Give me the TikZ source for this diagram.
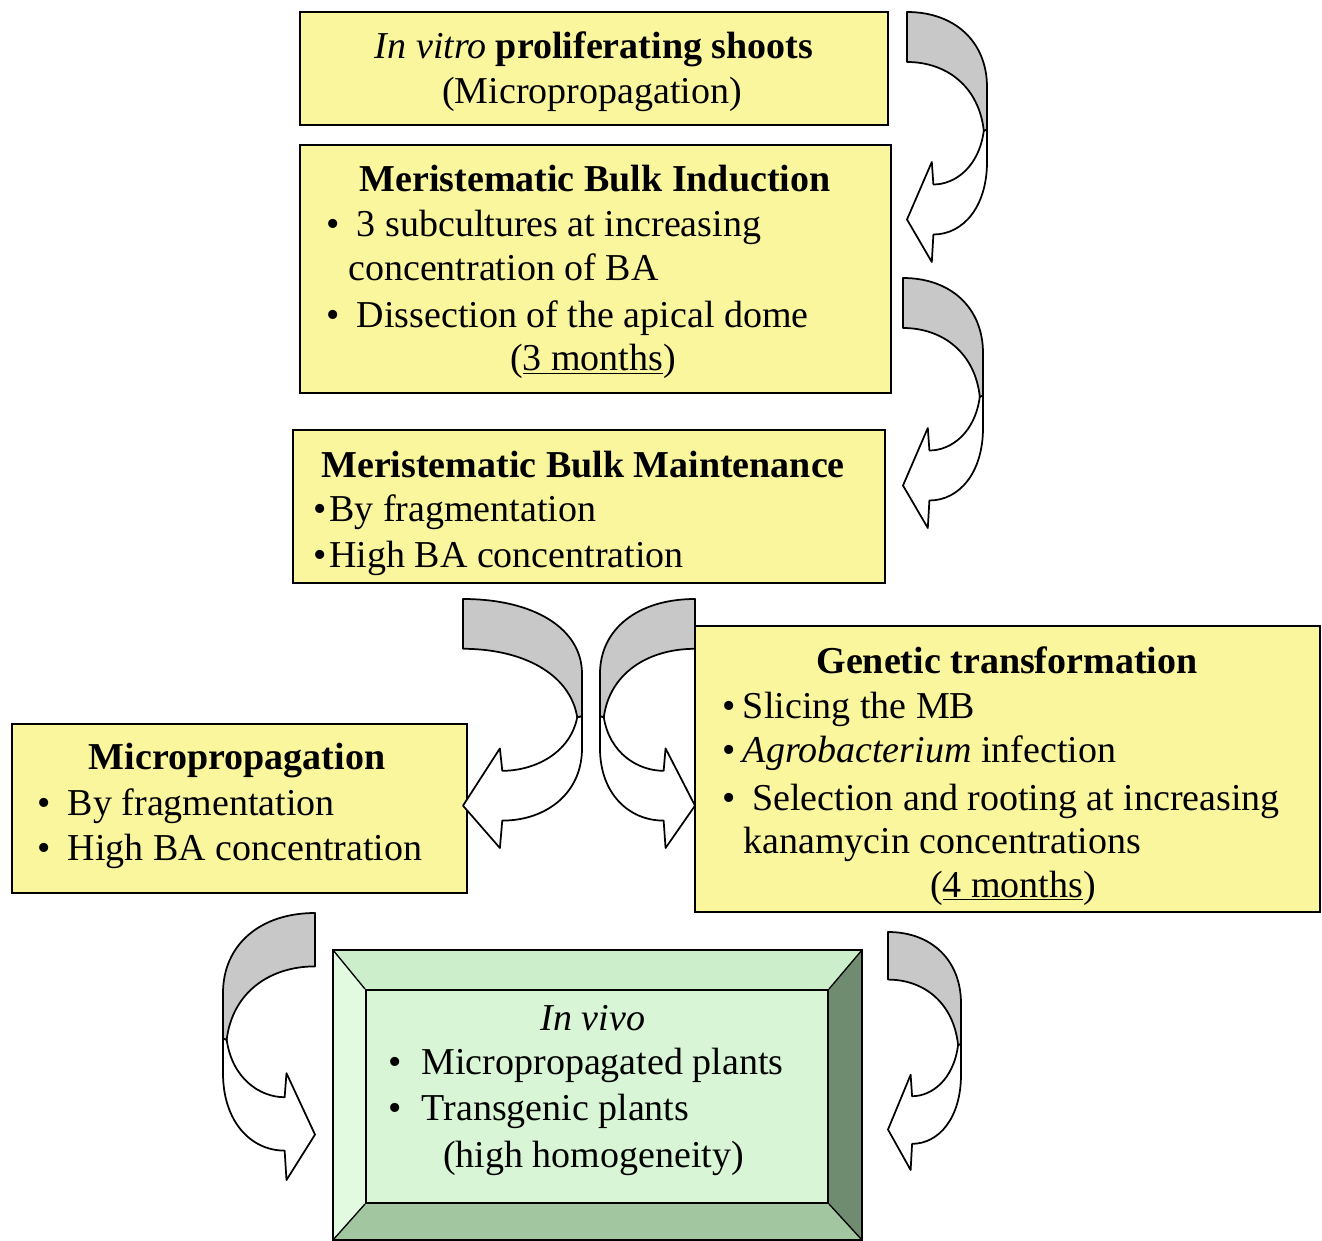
\documentclass[tikz,border=0pt]{standalone}
\usepackage{fontspec}
\setmainfont{Liberation Serif}
\usetikzlibrary{fit}
\definecolor{yboxc}{RGB}{250,246,158}
\definecolor{agray}{RGB}{200,200,200}
\definecolor{ginner}{RGB}{216,245,213}
\definecolor{gtop}{RGB}{204,238,202}
\definecolor{gleft}{RGB}{226,250,224}
\definecolor{gright}{RGB}{112,140,112}
\definecolor{gbottom}{RGB}{162,198,160}
\newcommand\bl[1]{\makebox[#1][l]{\textbullet}}
\begin{document}
\begin{tikzpicture}[x=0.75pt,y=-0.75pt,
  ybox/.style={draw=black,line width=1.5pt,fill=yboxc,inner sep=0pt},
  tx/.style={inner sep=0pt,anchor=base,font=\fontsize{28.5}{34}\selectfont},
  txl/.style={tx,anchor=base west},
  aline/.style={draw=black,line width=1.3pt,line join=round},
  curvarrow/.pic={
    \filldraw[aline,fill=white] (0.96,0.475) .. controls (0.9,0.62) and (0.6,0.69) .. (0.33,0.69)
      -- (0.31,0.6) -- (0,0.83) -- (0.31,1) -- (0.33,0.89)
      .. controls (0.7,0.89) and (1,0.78) .. (1,0.6) -- (1,0.47) -- cycle;
    \filldraw[aline,fill=agray] (0,0) .. controls (0.6,0) and (1,0.12) .. (1,0.3) -- (1,0.47)
      -- (0.96,0.475) .. controls (0.9,0.3) and (0.5,0.2) .. (0,0.2) -- cycle;
  }]
\path[use as bounding box,fill=white] (0,0) rectangle (1322,1241);

% yellow boxes
\node[ybox,fit={(300,12) (888,125)}] (b1) {};
\node[ybox,fit={(300,145) (891,393)}] (b2) {};
\node[ybox,fit={(293,430) (885,583)}] (b3) {};
\node[ybox,fit={(695,626) (1320,912)}] (b4) {};
\node[ybox,fit={(12,724) (467,893)}] (b5) {};

% green bevel box
\fill[gtop] (333,950) -- (862,950) -- (828,990) -- (366,990) -- cycle;
\fill[gleft] (333,950) -- (366,990) -- (366,1203) -- (333,1240) -- cycle;
\fill[gright] (862,950) -- (862,1240) -- (828,1203) -- (828,990) -- cycle;
\fill[gbottom] (333,1240) -- (862,1240) -- (828,1203) -- (366,1203) -- cycle;
\node[draw=black,line width=1.5pt,fill=ginner,inner sep=0pt,fit={(366,990) (828,1203)}] (b6) {};
\draw[line width=1.5pt] (333,950) rectangle (862,1240);
\draw[line width=1pt] (333,950) -- (b6.north west) (862,950) -- (b6.north east)
  (862,1240) -- (b6.south east) (333,1240) -- (b6.south west);

% texts box 1
\node[tx] (t1a) at (594,59) {\textit{In vitro} \textbf{proliferating shoots}};
\node[tx] (t1b) at (592,104) {(Micropropagation)};
% box 2
\node[tx] (t2a) at (595,192) {\textbf{Meristematic Bulk Induction}};
\node[txl] (t2b) at (326,237) {\bl{23pt}3 subcultures at increasing};
\node[txl] (t2c) at (348,281) {concentration of BA};
\node[txl] (t2d) at (326,328) {\bl{23pt}Dissection of the apical dome};
\node[tx] (t2e) at (593,371) {(\underline{3 months})};
% box 3
\node[tx] (t3a) at (583,477) {\textbf{Meristematic Bulk Maintenance}};
\node[txl] (t3b) at (313,522) {\bl{12pt}By fragmentation};
\node[txl] (t3c) at (313,567) {\bl{12pt}High BA concentration};
% box 4
\node[tx] (t4a) at (1007,673) {\textbf{Genetic transformation}};
\node[txl] (t4b) at (722,718) {\bl{15.5pt}Slicing the MB};
\node[txl] (t4c) at (722,762) {\bl{15.5pt}\textit{Agrobacterium} infection};
\node[txl] (t4d) at (722,810) {\bl{22.5pt}Selection and rooting at increasing};
\node[txl] (t4e) at (743,853) {kanamycin concentrations};
\node[tx] (t4f) at (1013,897) {(\underline{4 months})};
% box 5
\node[tx] (t5a) at (237,769) {\textbf{Micropropagation}};
\node[txl] (t5b) at (37,815) {\bl{23pt}By fragmentation};
\node[txl] (t5c) at (37,860) {\bl{23pt}High BA concentration};
% box 6
\node[tx] (t6a) at (593,1030) {\textit{In vivo}};
\node[txl] (t6b) at (388,1074) {\bl{25pt}Micropropagated plants};
\node[txl] (t6c) at (388,1120) {\bl{25pt}Transgenic plants};
\node[txl] (t6d) at (443,1167) {(high homogeneity)};

% curved arrows
\pic[xscale=80,yscale=250] (arA) at (907,12) {curvarrow};
\pic[xscale=80,yscale=250] (arB) at (903,278) {curvarrow};
\pic[xscale=119,yscale=249] (arC) at (463,599) {curvarrow};
\pic[xscale=-95,yscale=249] (arD) at (695,599) {curvarrow};
\pic[xscale=-92,yscale=267] (arE) at (315,913) {curvarrow};
\pic[xscale=73,yscale=238] (arF) at (888,932) {curvarrow};
\end{tikzpicture}
\end{document}
